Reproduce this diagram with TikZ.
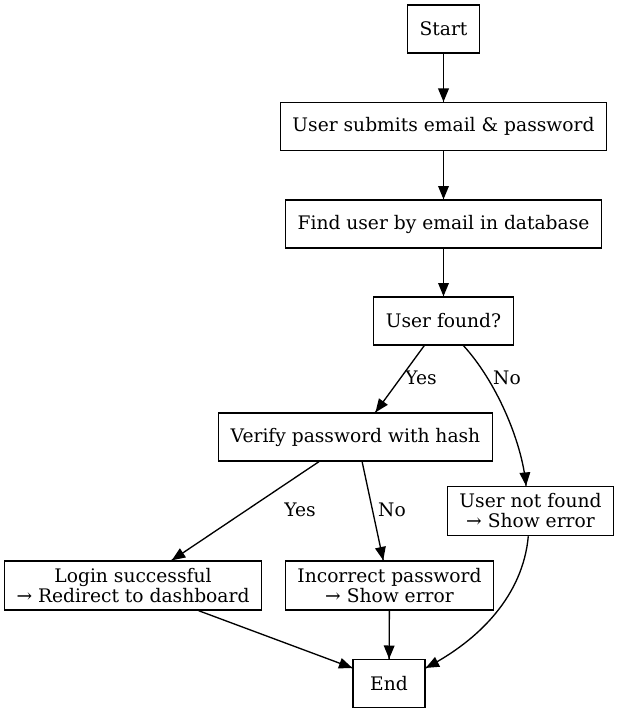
\documentclass[tikz,border=0pt]{standalone}
\usepackage{fontspec}
\setmainfont{DejaVu Serif}
\usetikzlibrary{arrows.meta,
                 decorations.markings}
\tikzset{arr/.style = {decoration={markings, mark=at position 1 with {\arrow{Triangle[length=10pt, width=8pt]}}}, postaction={decorate}}}
\tikzset{box/.style = {draw, rectangle, inner xsep = 9pt, inner ysep = 5.5pt, minimum width = 54pt, minimum height = 36pt, align = center}}
\tikzset{lbl/.style = {inner sep = 0}}

\begin{document}
\begin{tikzpicture}[x=0.75pt, y=-0.75pt, line width=1pt, font=\fontsize{14}{15}\selectfont]
    \useasboundingbox (0, 0) rectangle (619, 713);

    % Boxes
    \node [box] (start) at (443.5, 29) {Start};
    \node [box] (submit) at (443.5, 126.5) {User submits email \& password};
    \node [box] (find) at (443.5, 224) {Find user by email in database};
    \node [box] (found) at (443.5, 321) {User found?};
    \node [box] (verify) at (355.5, 437) {Verify password with hash};
    \node [box] (notfound) at (530.5, 511) {User not found\\→ Show error};
    \node [box] (login) at (133, 585.5) {Login successful\\→ Redirect to dashboard};
    \node [box] (wrong) at (389.5, 585.5) {Incorrect password\\→ Show error};
    \node [box] (end) at (389, 683.5) {End};

    % Edges
    \draw [arr] (start) -- (submit);
    \draw [arr] (submit) -- (find);
    \draw [arr] (find) -- (found);
    \draw [arr] (found.-128) -- (verify.51);
    \draw [arr] (found.-51) .. controls (495, 380) and (522, 440) .. (notfound.100);
    \draw [arr] (verify.-146) -- (login.33);
    \draw [arr] (verify.-75) -- (wrong.104);
    \draw [arr] (login.-21) -- (end.157);
    \draw [arr] (wrong) -- (end);
    \draw [arr] (notfound.-95) .. controls (523, 595) and (480, 640) .. (end.23);

    % Labels
    \node [lbl] (yes1) at (421, 378) {Yes};
    \node [lbl] (no1) at (507, 378) {No};
    \node [lbl] (yes2) at (300, 510) {Yes};
    \node [lbl] (no2) at (392, 510) {No};
\end{tikzpicture}
\end{document}
